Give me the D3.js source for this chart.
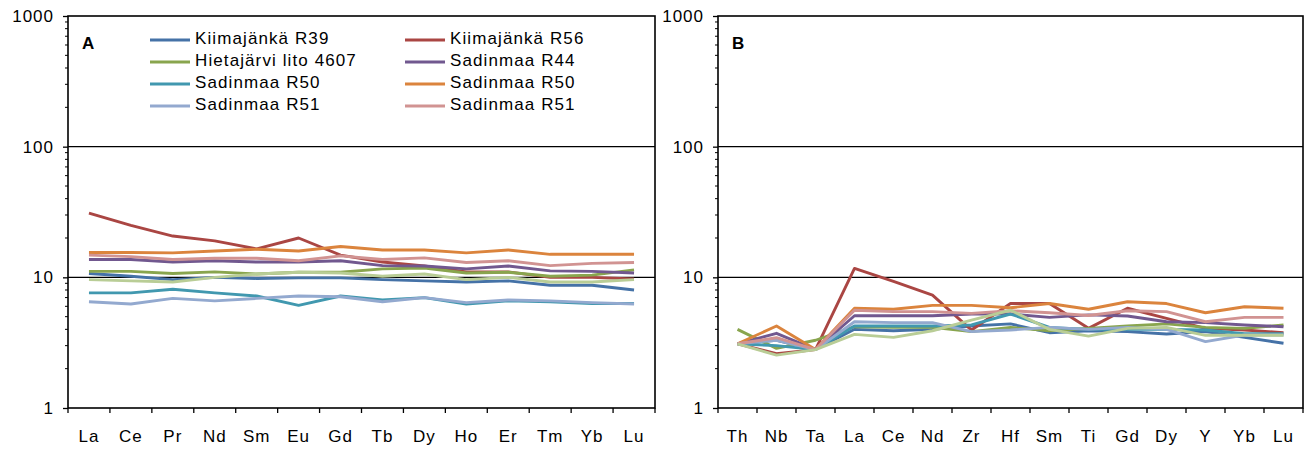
<!DOCTYPE html>
<html><head><meta charset="utf-8">
<script src="https://cdn.jsdelivr.net/npm/d3@7"></script>
<style>
html,body{margin:0;padding:0;background:#fff;}
svg text{font-family:"Liberation Sans",Arial,sans-serif;}
</style></head>
<body><svg id="c" width="1314" height="449"></svg>
<script>
// ---- data ----
const reeCats = ["La","Ce","Pr","Nd","Sm","Eu","Gd","Tb","Dy","Ho","Er","Tm","Yb","Lu"];
const traceCats = ["Th","Nb","Ta","La","Ce","Nd","Zr","Hf","Sm","Ti","Gd","Dy","Y","Yb","Lu"];
const yTicks = [1,10,100,1000];
const seriesNames = ["Kiimajänkä R39","Kiimajänkä R56","Hietajärvi lito 4607","Sadinmaa R44","Sadinmaa R50","Sadinmaa R50","Sadinmaa R51","Sadinmaa R51",""];
const seriesColors = ["#4572A7","#AA4643","#89A54E","#71588F","#4198AF","#DB843D","#93A9CF","#D19392","#B9CD96"];

// panel A (REE)
const reeR39   = [10.7,10.2,9.6,10.0,9.8,9.9,9.9,9.6,9.4,9.2,9.4,8.7,8.7,8.0];
const reeR56   = [31,25,20.7,19,16.5,20,14.8,13.1,12.2,11,11,10,10,9.7];
const reeHieta = [11.1,11.1,10.7,11.0,10.6,10.95,10.95,11.6,11.8,10.8,10.95,10.2,10.4,11.4];
const reeR44   = [13.7,13.7,13.1,13.4,13.1,13.1,13.4,12.3,12.2,11.6,12.2,11.2,11.1,10.8];
const reeR50a  = [7.6,7.6,8.1,7.6,7.2,6.1,7.2,6.7,7.0,6.25,6.6,6.5,6.3,6.3];
const reeR50b  = [15.5,15.5,15.4,15.9,16.4,15.9,17.2,16.2,16.2,15.4,16.2,15.0,15.0,15.0];
const reeR51a  = [6.5,6.25,6.9,6.6,6.9,7.2,7.1,6.5,7.0,6.4,6.7,6.6,6.4,6.25];
const reeR51b  = [14.8,14.4,13.7,14.0,14.0,13.4,14.6,13.7,14.1,13.0,13.4,12.3,12.8,13.0];
const reeS9    = [9.6,9.4,9.2,10.0,10.6,10.95,10.8,10.2,10.6,9.6,10.0,9.2,9.2,9.6];

// panel B (trace elements)
const trR39   = [3.1,3.3,2.8,4.0,3.9,4.0,4.24,4.4,3.77,3.9,3.84,3.68,3.84,3.47,3.13];
const trR56   = [3.1,2.6,2.8,11.7,9.3,7.3,3.95,6.3,6.3,4.07,5.8,4.86,4.07,3.95,3.77];
const trHieta = [4.0,2.86,3.3,4.19,4.14,4.14,3.84,4.14,3.9,4.07,4.24,4.4,4.14,4.07,4.32];
const trR44   = [3.1,3.73,2.8,5.08,5.08,5.08,5.24,5.24,4.94,5.16,5.06,4.57,4.5,4.32,4.19];
const trR50a  = [3.1,3.0,2.8,4.24,4.24,4.24,4.32,5.24,4.14,4.0,4.0,4.0,3.95,3.7,3.7];
const trR50b  = [3.1,4.24,2.8,5.8,5.7,6.1,6.1,5.85,6.3,5.7,6.5,6.3,5.36,5.96,5.8];
const trR51a  = [3.1,3.3,2.8,4.57,4.5,4.5,3.84,3.95,4.14,4.0,4.14,4.0,3.22,3.62,3.62];
const trR51b  = [3.1,3.45,2.8,5.6,5.46,5.46,5.3,5.55,5.36,5.1,5.55,5.46,4.57,4.94,4.94];
const trS9    = [3.1,2.54,2.8,3.66,3.47,3.9,4.71,5.6,4.0,3.55,4.07,4.14,3.6,3.6,3.6];

const reeSeries = [reeR39,reeR56,reeHieta,reeR44,reeR50a,reeR50b,reeR51a,reeR51b,reeS9];
const trSeries  = [trR39,trR56,trHieta,trR44,trR50a,trR50b,trR51a,trR51b,trS9];

// ---- drawing ----
const svg = d3.select("#c");
const plotTop = 16, plotBottom = 408;
const font = "17px";

function panel(left, right, cats, series, letter, legend){
  const g = svg.append("g");
  const x = d3.scaleBand().domain(cats).range([left,right]).paddingInner(0).paddingOuter(0);
  const y = d3.scaleLog().domain([1,1000]).range([plotBottom,plotTop]);

  g.selectAll("line.grid").data(yTicks.slice(1,3)).enter().append("line")
    .attr("x1",left).attr("x2",right).attr("y1",d=>y(d)).attr("y2",d=>y(d))
    .attr("stroke","#000").attr("stroke-width",1.3);

  const minors = [];
  [1,10,100].forEach(b=>{for(let k=2;k<=9;k++) minors.push(b*k);});
  g.selectAll("line.minor").data(minors).enter().append("line")
    .attr("x1",left-3).attr("x2",left).attr("y1",d=>y(d)).attr("y2",d=>y(d))
    .attr("stroke","#000").attr("stroke-width",1);

  const ya = d3.axisLeft(y).tickValues(yTicks).tickFormat(d3.format("d")).tickSize(5).tickPadding(9);
  const yg = g.append("g").attr("transform",`translate(${left},0)`).call(ya);
  yg.select(".domain").remove();
  yg.selectAll("line").attr("stroke","#000").attr("stroke-width",1.3);
  yg.selectAll("text").attr("font-size",font).attr("letter-spacing","1px").attr("fill","#000")
    .style("font-family","'Liberation Sans',Arial,sans-serif");

  const bounds = cats.map(c=>x(c)).concat([right]);
  g.selectAll("line.xt").data(bounds).enter().append("line")
    .attr("x1",d=>d).attr("x2",d=>d).attr("y1",plotBottom).attr("y2",plotBottom+5)
    .attr("stroke","#000").attr("stroke-width",1.3);
  const xa = d3.axisBottom(x).tickSize(0).tickPadding(22);
  const xg = g.append("g").attr("transform",`translate(0,${plotBottom})`).call(xa);
  xg.select(".domain").remove();
  xg.selectAll("text").attr("font-size",font).attr("letter-spacing","1px").attr("fill","#000")
    .style("font-family","'Liberation Sans',Arial,sans-serif");

  const line = d3.line().x((d,i)=>x(cats[i])+x.bandwidth()/2).y(d=>y(d));
  series.forEach((s,i)=>{
    g.append("path").datum(s).attr("d",line).attr("fill","none")
      .attr("stroke",seriesColors[i]).attr("stroke-width",2.9).attr("stroke-linejoin","round");
  });

  g.append("rect").attr("x",left).attr("y",plotTop).attr("width",right-left).attr("height",plotBottom-plotTop)
    .attr("fill","none").attr("stroke","#000").attr("stroke-width",1.6);

  g.append("text").attr("x",left+14).attr("y",45).attr("dominant-baseline","middle")
    .attr("font-size","17px").attr("font-weight","bold").text(letter);

  if(legend){
    const cols = [150,405];
    for(let i=0;i<8;i++){
      const cx = cols[i%2], cy = 40 + Math.floor(i/2)*22;
      g.append("line").attr("x1",cx).attr("x2",cx+40).attr("y1",cy).attr("y2",cy)
        .attr("stroke",seriesColors[i]).attr("stroke-width",3);
      g.append("text").attr("x",cx+45).attr("y",cy).attr("dominant-baseline","middle")
        .attr("font-size",font).attr("letter-spacing","1.1px").attr("fill","#000").text(seriesNames[i]);
    }
  }
}

panel(68,655,reeCats,reeSeries,"A",true);
panel(718,1303,traceCats,trSeries,"B",false);
</script></body></html>
